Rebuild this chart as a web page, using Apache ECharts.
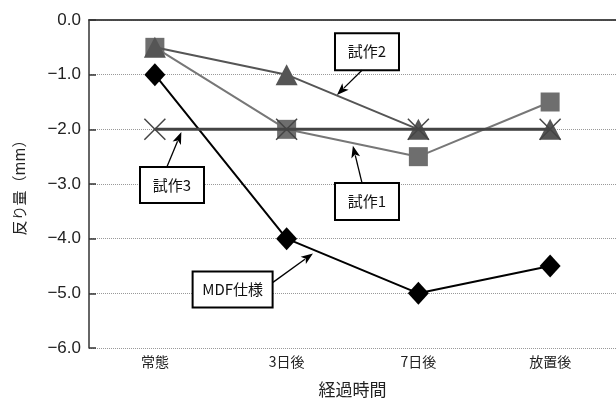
<!DOCTYPE html>
<html>
<head>
<meta charset="utf-8">
<script src="https://cdn.jsdelivr.net/npm/echarts@6/dist/echarts.min.js"></script>
<style>
  html, body { margin: 0; padding: 0; background: #fff; }
  #chart { width: 616px; height: 398px; }
</style>
</head>
<body>
<div id="chart"></div>
<script>
// Elapsed-time categories
const categories = ['常態', '3日後', '7日後', '放置後'];

// Warpage (mm) per specimen
const mdfValues = [-1.0, -4.0, -5.0, -4.5];
const proto1Values = [-0.5, -2.0, -2.5, -1.5];
const proto2Values = [-0.5, -1.0, -2.0, -2.0];
const proto3Values = [-2.0, -2.0, -2.0, -2.0];

// Callout labels: text, box centre and arrow (tail -> tip) in data space [category index, value]
const callouts = [
  { text: '試作2',   box: [1.61, -0.58], w: 64, h: 37, from: [1.572, -0.92], to: [1.382, -1.37] },
  { text: '試作1',   box: [1.61, -3.32], w: 64, h: 37, from: [1.572, -2.98], to: [1.503, -2.30] },
  { text: '試作3',   box: [0.13, -3.02], w: 64, h: 36, from: [0.091, -2.69], to: [0.201, -2.05] },
  { text: 'MDF仕様', box: [0.59, -4.93], w: 80, h: 36, from: [0.896, -4.80], to: [1.200, -4.27] }
];

const FONT = '"Liberation Sans", "Noto Sans CJK JP", sans-serif';
const JP = '"Noto Sans CJK JP", sans-serif';

const chart = echarts.init(document.getElementById('chart'), null, { renderer: 'canvas' });

function fmt(v) {
  return v.toFixed(1).replace('-', '\u2212');
}

chart.setOption({
  animation: false,
  backgroundColor: '#fff',
  grid: { left: 89, right: 0, top: 20, bottom: 50, outerBoundsMode: 'none', containLabel: false },
  xAxis: [
    {
      type: 'category',
      data: categories,
      boundaryGap: true,
      axisLine: { lineStyle: { color: '#333', width: 1.5 } },
      axisTick: { show: false },
      axisLabel: { color: '#222', fontSize: 14, fontFamily: JP, margin: 7 },
      name: '経過時間',
      nameLocation: 'middle',
      nameGap: 33,
      nameTextStyle: { color: '#222', fontSize: 17, fontFamily: JP }
    },
    {
      type: 'category',
      position: 'top',
      data: categories,
      axisLine: { lineStyle: { color: '#444', width: 1.5 } },
      axisTick: { show: false },
      axisLabel: { show: false }
    }
  ],
  yAxis: {
    type: 'value',
    min: -6,
    max: 0,
    interval: 1,
    axisLine: { show: true, lineStyle: { color: '#333', width: 1.5 } },
    axisTick: { show: true, inside: true, length: 7, lineStyle: { color: '#333', width: 1.5 } },
    axisLabel: { color: '#222', fontSize: 17, fontFamily: FONT, margin: 8, formatter: fmt },
    splitLine: { show: true, lineStyle: { color: '#999', width: 1, type: [1, 1] } },
    name: '反り量（mm）',
    nameLocation: 'middle',
    nameRotate: 90,
    nameGap: 62,
    nameTextStyle: { color: '#222', fontSize: 15, fontFamily: JP }
  },
  series: [
    {
      name: 'MDF仕様',
      type: 'line',
      data: mdfValues,
      symbol: 'diamond',
      symbolSize: [21, 23],
      lineStyle: { color: '#000', width: 2 },
      itemStyle: { color: '#000' },
      z: 3
    },
    {
      name: '試作1',
      type: 'line',
      data: proto1Values,
      symbol: 'rect',
      symbolSize: 19,
      lineStyle: { color: '#777', width: 2 },
      itemStyle: { color: '#6e6e6e' },
      z: 4
    },
    {
      name: '試作2',
      type: 'line',
      data: proto2Values,
      symbol: 'triangle',
      symbolSize: [22, 21],
      lineStyle: { color: '#555', width: 2 },
      itemStyle: { color: '#555' },
      z: 5
    },
    {
      name: '試作3',
      type: 'line',
      data: proto3Values,
      symbol: 'path://M0,0L10,10M10,0L0,10',
      symbolSize: 21,
      lineStyle: { color: '#444', width: 3 },
      itemStyle: { color: 'none', borderColor: '#444', borderWidth: 1.5 },
      z: 6
    }
  ]
});

// Callout boxes and arrows placed from data coordinates
function toPx(p) {
  const a = chart.convertToPixel({ xAxisIndex: 0, yAxisIndex: 0 }, [0, p[1]]);
  const b = chart.convertToPixel({ xAxisIndex: 0, yAxisIndex: 0 }, [1, p[1]]);
  return [a[0] + p[0] * (b[0] - a[0]), a[1]];
}

const graphics = [];
callouts.forEach(function (c) {
  const ctr = toPx(c.box);
  const f = toPx(c.from);
  const t = toPx(c.to);
  graphics.push({
    type: 'rect',
    shape: { x: ctr[0] - c.w / 2, y: ctr[1] - c.h / 2, width: c.w, height: c.h },
    style: { fill: '#fff', stroke: '#000', lineWidth: 2 },
    z: 100
  });
  graphics.push({
    type: 'text',
    x: ctr[0],
    y: ctr[1],
    style: { text: c.text, fill: '#111', font: '15px ' + JP, align: 'center', verticalAlign: 'middle' },
    z: 101
  });
  const ang = Math.atan2(t[1] - f[1], t[0] - f[0]);
  const L = 12, W = 4.5;
  const bx = t[0] - L * Math.cos(ang), by = t[1] - L * Math.sin(ang);
  const nx = -Math.sin(ang), ny = Math.cos(ang);
  graphics.push({
    type: 'line',
    shape: { x1: f[0], y1: f[1], x2: bx + 2 * Math.cos(ang), y2: by + 2 * Math.sin(ang) },
    style: { stroke: '#000', lineWidth: 1.3 },
    z: 100
  });
  graphics.push({
    type: 'polygon',
    shape: { points: [[t[0], t[1]], [bx + nx * W, by + ny * W], [bx + 3 * Math.cos(ang), by + 3 * Math.sin(ang)], [bx - nx * W, by - ny * W]] },
    style: { fill: '#000' },
    z: 100
  });
});
chart.setOption({ graphic: graphics });
</script>
</body>
</html>
